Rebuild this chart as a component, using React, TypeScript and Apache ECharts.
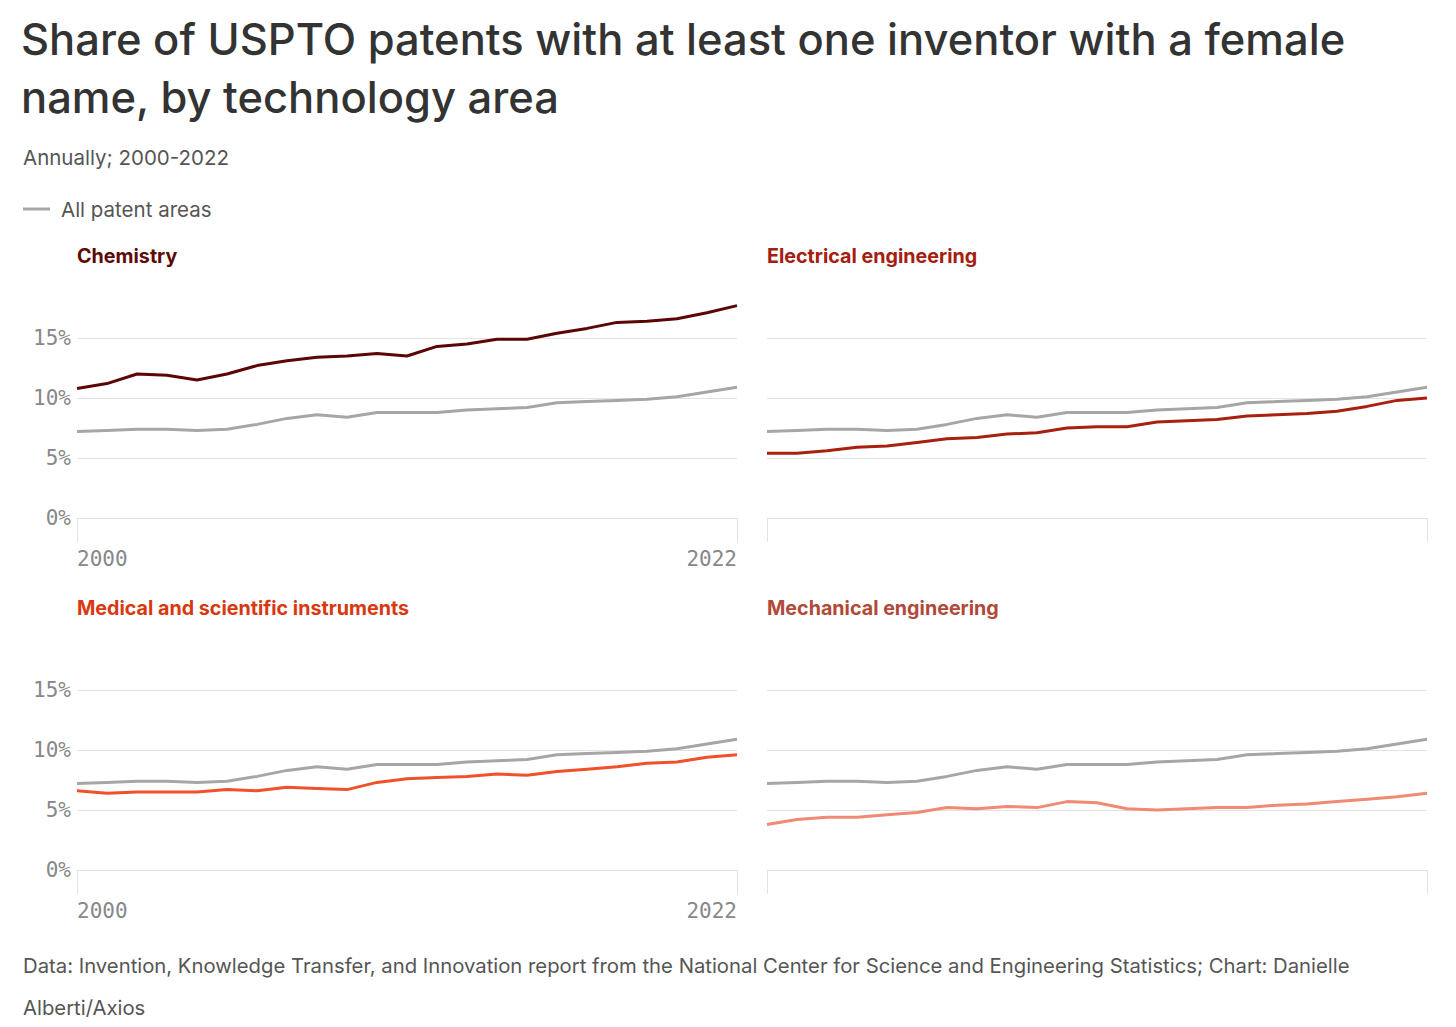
import React, { useEffect, useRef } from "react";
import * as echarts from "echarts";

const years = [2000, 2001, 2002, 2003, 2004, 2005, 2006, 2007, 2008, 2009, 2010, 2011, 2012, 2013, 2014, 2015, 2016, 2017, 2018, 2019, 2020, 2021, 2022];

const allAreas = [7.2, 7.3, 7.4, 7.4, 7.3, 7.4, 7.8, 8.3, 8.6, 8.4, 8.8, 8.8, 8.8, 9.0, 9.1, 9.2, 9.6, 9.7, 9.8, 9.9, 10.1, 10.5, 10.9];
const chemistry = [10.8, 11.2, 12.0, 11.9, 11.5, 12.0, 12.7, 13.1, 13.4, 13.5, 13.7, 13.5, 14.3, 14.5, 14.9, 14.9, 15.4, 15.8, 16.3, 16.4, 16.6, 17.1, 17.7];
const electrical = [5.4, 5.4, 5.6, 5.9, 6.0, 6.3, 6.6, 6.7, 7.0, 7.1, 7.5, 7.6, 7.6, 8.0, 8.1, 8.2, 8.5, 8.6, 8.7, 8.9, 9.3, 9.8, 10.0];
const medical = [6.6, 6.4, 6.5, 6.5, 6.5, 6.7, 6.6, 6.9, 6.8, 6.7, 7.3, 7.6, 7.7, 7.8, 8.0, 7.9, 8.2, 8.4, 8.6, 8.9, 9.0, 9.4, 9.6];
const mechanical = [3.8, 4.2, 4.4, 4.4, 4.6, 4.8, 5.2, 5.1, 5.3, 5.2, 5.7, 5.6, 5.1, 5.0, 5.1, 5.2, 5.2, 5.4, 5.5, 5.7, 5.9, 6.1, 6.4];

const panelNames = ["Chemistry", "Electrical engineering", "Medical and scientific instruments", "Mechanical engineering"];
const panelSeries = [chemistry, electrical, medical, mechanical];
const titleColors = ["#5c0a06", "#a3200f", "#d9380f", "#b04a38"];
const lineColors = ["#5c0505", "#a8200f", "#f0502a", "#f08a72"];
const yTicks = [0, 5, 10, 15];

const titleLines = [
  "Share of USPTO patents with at least one inventor with a female",
  "name, by technology area",
];
const subtitle = "Annually; 2000-2022";
const legendLabel = "All patent areas";
const footerLines = [
  "Data: Invention, Knowledge Transfer, and Innovation report from the National Center for Science and Engineering Statistics; Chart: Danielle",
  "Alberti/Axios",
];

const SANS = "Inter, 'Noto Sans', sans-serif";
const MONO = "'DejaVu Sans Mono', monospace";

export default function App() {
  const ref = useRef<HTMLDivElement>(null);

  useEffect(() => {
    if (!ref.current) return;
    const chart = echarts.init(ref.current, undefined, { renderer: "svg" });

    const grids = [
      { left: 77, top: 338, width: 660, height: 180 },
      { left: 767, top: 338, width: 660, height: 180 },
      { left: 77, top: 690, width: 660, height: 180 },
      { left: 767, top: 690, width: 660, height: 180 },
    ];
    const gridLine = "#e3e3e3";

    const xAxes = grids.map((_, i) => ({
      type: "value",
      gridIndex: i,
      min: years[0],
      max: years[years.length - 1],
      interval: years[years.length - 1] - years[0],
      axisLine: { show: true, lineStyle: { color: gridLine, width: 1 } },
      axisTick: { show: true, length: 24, lineStyle: { color: gridLine, width: 1 } },
      splitLine: { show: false },
      axisLabel: {
        show: i % 2 === 0,
        formatter: (v: number) => String(v),
        margin: 30,
        fontFamily: MONO,
        fontSize: 21,
        color: "#888",
        alignMinLabel: "left",
        alignMaxLabel: "right",
      },
    }));

    const yAxes = grids.map((_, i) => ({
      type: "value",
      gridIndex: i,
      min: yTicks[0],
      max: yTicks[yTicks.length - 1],
      interval: yTicks[1] - yTicks[0],
      axisLine: { show: false },
      axisTick: { show: false },
      splitLine: { show: true, lineStyle: { color: gridLine, width: 1 } },
      axisLabel: {
        show: i % 2 === 0,
        formatter: "{value}%",
        margin: 6,
        fontFamily: MONO,
        fontSize: 21,
        color: "#888",
      },
    }));

    const series: any[] = [];
    panelSeries.forEach((vals, i) => {
      series.push({
        type: "line",
        name: legendLabel,
        xAxisIndex: i,
        yAxisIndex: i,
        data: years.map((y, k) => [y, allAreas[k]]),
        showSymbol: false,
        clip: false,
        silent: true,
        lineStyle: { color: "#a6a6a6", width: 3 },
        z: 2,
      });
      series.push({
        type: "line",
        name: panelNames[i],
        xAxisIndex: i,
        yAxisIndex: i,
        data: years.map((y, k) => [y, vals[k]]),
        showSymbol: false,
        clip: false,
        silent: true,
        lineStyle: { color: lineColors[i], width: 3 },
        z: 3,
      });
    });

    const txt = (text: string, x: number, y: number, size: number, fill: string, weight: any = "normal", family = SANS) => ({
      type: "text",
      x,
      y,
      silent: true,
      style: { text, fontSize: size, fontFamily: family, fontWeight: weight, fill, align: "left", verticalAlign: "middle" },
    });

    const graphic: any[] = [
      txt(titleLines[0], 21, 39, 43.5, "#333333", 500),
      txt(titleLines[1], 21, 97, 43.5, "#333333", 500),
      txt(subtitle, 23, 157, 20.5, "#555555"),
      {
        type: "line",
        silent: true,
        shape: { x1: 23, y1: 209, x2: 50, y2: 209 },
        style: { stroke: "#a6a6a6", lineWidth: 3 },
      },
      txt(legendLabel, 61, 209, 20.5, "#555555"),
      txt(panelNames[0], 77, 256, 19.7, titleColors[0], "bold"),
      txt(panelNames[1], 767, 256, 19.7, titleColors[1], "bold"),
      txt(panelNames[2], 77, 608, 19.7, titleColors[2], "bold"),
      txt(panelNames[3], 767, 608, 19.7, titleColors[3], "bold"),
      txt(footerLines[0], 23, 965, 20.3, "#555555"),
      txt(footerLines[1], 23, 1007, 20.3, "#555555"),
    ];

    chart.setOption({
      animation: false,
      backgroundColor: "#ffffff",
      grid: grids.map((g) => ({ ...g, containLabel: false })),
      xAxis: xAxes,
      yAxis: yAxes,
      series,
      graphic,
    });

    return () => chart.dispose();
  }, []);

  return (
    <div
      ref={ref}
      style={{ position: "absolute", left: 0, top: 0, width: 1456, height: 1027, background: "#fff" }}
    />
  );
}
